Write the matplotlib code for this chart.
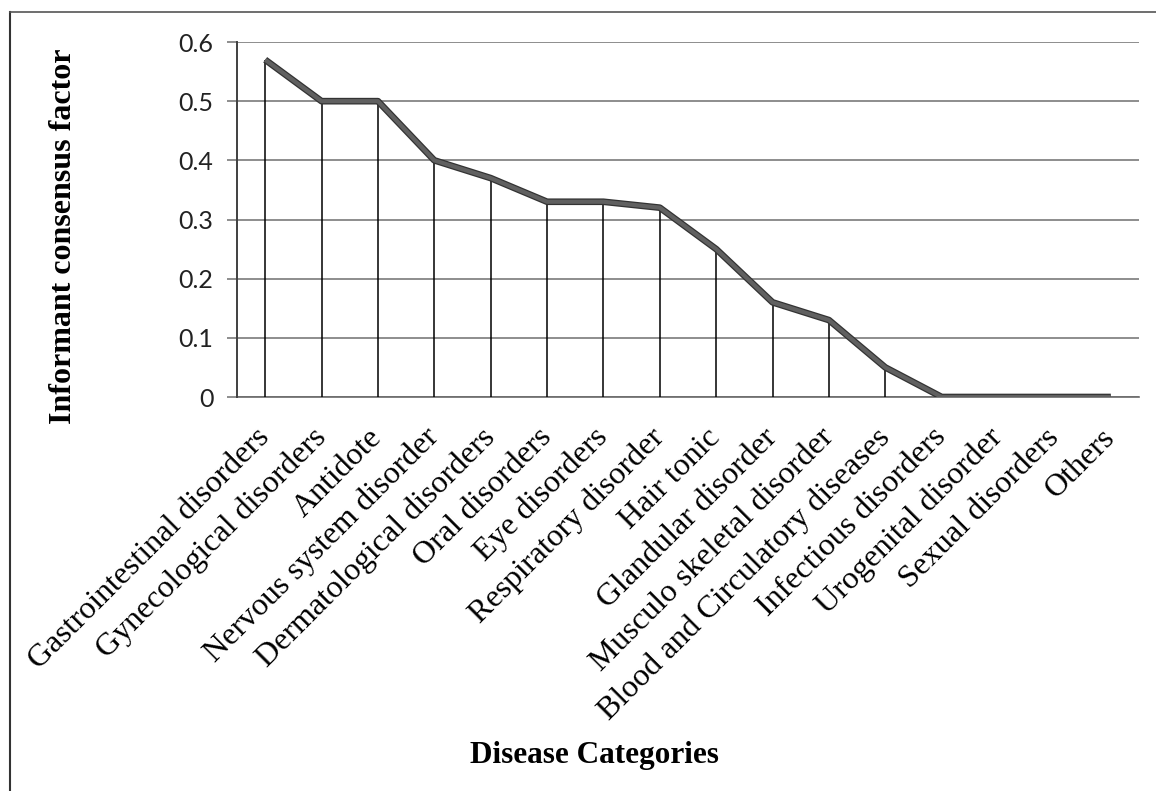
import matplotlib
matplotlib.use('Agg')
import matplotlib.pyplot as plt
import matplotlib.patheffects as pe
from matplotlib.lines import Line2D
import numpy as np

# disease categories and informant consensus factor values
categories = ['Gastrointestinal disorders', 'Gynecological disorders', 'Antidote',
              'Nervous system disorder', 'Dermatological disorders', 'Oral disorders',
              'Eye disorders', 'Respiratory disorder', 'Hair tonic', 'Glandular disorder',
              'Musculo skeletal disorder', 'Blood and Circulatory diseases',
              'Infectious disorders', 'Urogenital disorder', 'Sexual disorders', 'Others']
fic = [0.57, 0.50, 0.50, 0.40, 0.37, 0.33, 0.33, 0.32, 0.25, 0.16, 0.13, 0.05,
       0.0, 0.0, 0.0, 0.0]
yticks = [0, 0.1, 0.2, 0.3, 0.4, 0.5, 0.6]
ytick_labels = ['0', '0.1', '0.2', '0.3', '0.4', '0.5', '0.6']

serif = 'Liberation Serif'

fig = plt.figure(figsize=(11.56, 7.91), dpi=100)
ax = fig.add_axes([0.205, 0.4981, 0.7803, 0.4488])

x = np.arange(len(categories))
ax.set_xlim(-0.5, len(categories) - 0.5)
ax.set_ylim(0, 0.6)

# grid lines
ax.set_yticks(yticks)
ax.set_yticklabels(ytick_labels, fontfamily='Lato', fontsize=18, color='#222222')
ax.yaxis.grid(True, color='#7a7a7a', linewidth=1.2, zorder=0)
ax.set_axisbelow(True)
ax.tick_params(axis='y', length=7, width=1.2, color='#7a7a7a', pad=10)

# drop lines and main line
ax.vlines(x, 0, fic, colors='black', linewidth=1.1, zorder=2)
ax.plot(x, fic, color='#606060', linewidth=3.0, zorder=3, solid_capstyle='butt',
        path_effects=[pe.Stroke(linewidth=4.8, foreground='#333333'), pe.Normal()])

ax.set_xticks(x)
ax.set_xticklabels(categories, rotation=45, ha='right', va='center',
                   rotation_mode='anchor', fontfamily=serif, fontsize=23)
ax.tick_params(axis='x', length=0, pad=26)

for s in ['top', 'right']:
    ax.spines[s].set_visible(False)
ax.spines['left'].set_color('#404040')
ax.spines['left'].set_linewidth(1.4)
ax.spines['bottom'].set_color('#6a6a6a')
ax.spines['bottom'].set_linewidth(1.2)
ax.spines['bottom'].set_zorder(1)

# axis titles
fig.text(0.0545, 0.7016, 'Informant consensus factor', rotation=90, ha='center',
         va='center', fontfamily=serif, fontweight='bold', fontsize=23)
fig.text(0.514, 0.0455, 'Disease Categories', ha='center', va='center',
         fontfamily=serif, fontweight='bold', fontsize=22.5)

# outer frame (left and top edges)
fig.add_artist(Line2D([10 / 1156, 10 / 1156], [0, 1 - 12 / 791],
                      transform=fig.transFigure, color='#333333', linewidth=1.5))
fig.add_artist(Line2D([10 / 1156, 1], [1 - 12 / 791, 1 - 12 / 791],
                      transform=fig.transFigure, color='#555555', linewidth=1.2))

fig.savefig('out.png', dpi=100)
